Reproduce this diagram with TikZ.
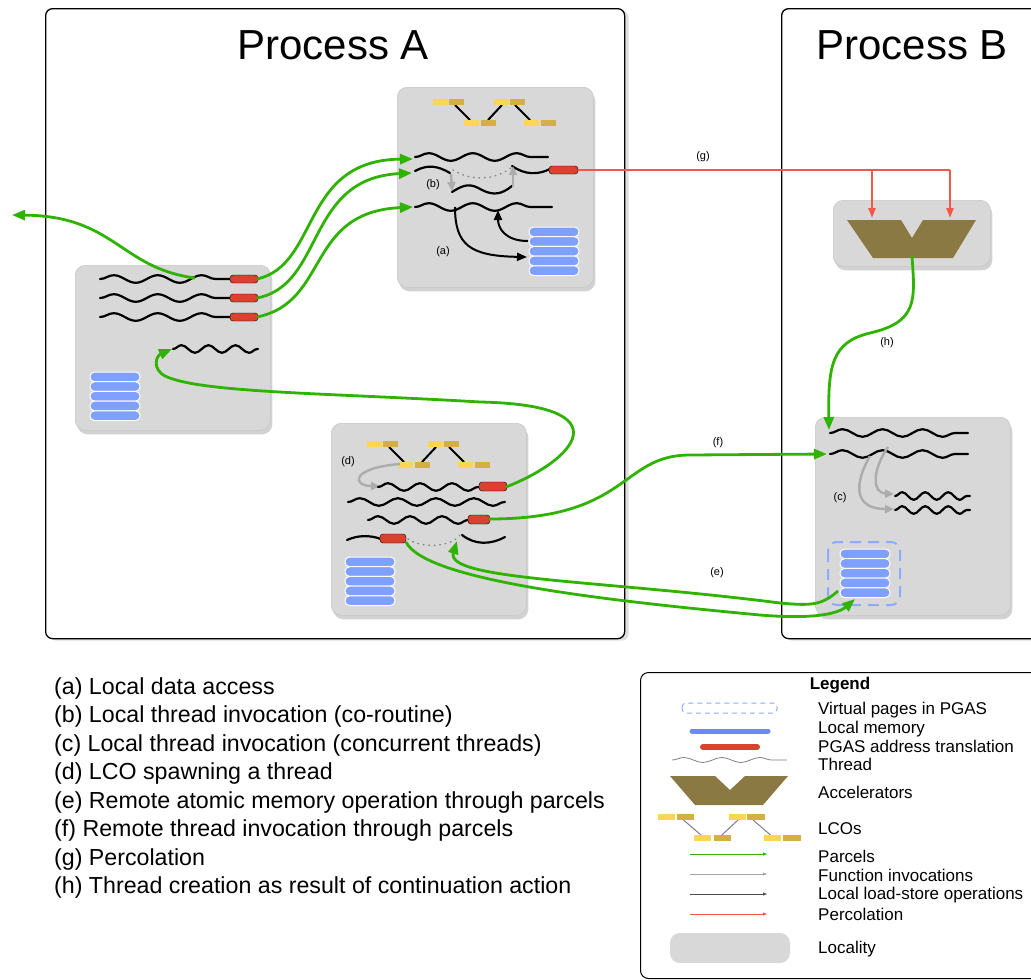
\documentclass[tikz,border=0pt]{standalone}
\usepackage{fontspec}
\setmainfont{Liberation Sans}
\usetikzlibrary{arrows.meta,decorations.pathmorphing,shadows}
\definecolor{grn}{RGB}{48,178,0}
\definecolor{redc}{RGB}{216,66,46}
\definecolor{redl}{RGB}{242,88,72}
\definecolor{memblue}{RGB}{128,160,255}
\definecolor{locgray}{RGB}{216,216,216}
\definecolor{lcoY}{RGB}{250,214,82}
\definecolor{lcoD}{RGB}{214,175,66}
\definecolor{accel}{RGB}{139,121,68}
\definecolor{arrgray}{RGB}{172,172,172}
\definecolor{dashblue}{RGB}{140,170,255}
\tikzset{
  procbox/.style={draw=black, line width=1.3pt, fill=white, rounded corners=7pt, inner sep=0pt, anchor=north west,
    drop shadow={shadow xshift=4pt, shadow yshift=-2pt, opacity=0.25}},
  locality/.style={draw=black!22, line width=0.6pt, fill=locgray, rounded corners=10pt, inner sep=0pt, anchor=north west,
    drop shadow={shadow xshift=2pt, shadow yshift=-4pt, opacity=0.35}},
  thread/.style={black, line width=2.2pt, line cap=round, decorate, decoration={snake, segment length=#1, amplitude=3.8pt}},
  thread/.default=44pt,
  tcurve/.style={black, line width=2.2pt, line cap=round},
  dotline/.style={black!50, line width=1.5pt, line cap=round, dash pattern=on 0.5pt off 5pt},
  redbar/.style={fill=redc, rounded corners=3pt},
  membar/.style={fill=memblue, draw=white, line width=1pt, rounded corners=4.5pt},
  lcoline/.style={black, line width=2pt},
  parcel/.style={grn, line width=2.8pt, -{Triangle[length=13pt,width=10pt]}},
  perc/.style={redl, line width=2.2pt},
  percarr/.style={redl, line width=2.2pt, -{Triangle[length=10pt,width=7pt]}},
  func/.style={arrgray, line width=2.4pt, -{Triangle[length=9pt,width=8pt]}},
  lsop/.style={black, line width=2pt, -{Triangle[length=10pt,width=8pt]}},
  lbl/.style={font=\fontsize{11}{13}\selectfont, inner sep=0pt},
  title/.style={font=\fontsize{42}{50}\selectfont, inner sep=0pt},
  listtxt/.style={font=\fontsize{23.2}{26}\selectfont, anchor=west, inner sep=0pt},
  legtxt/.style={font=\fontsize{17}{19}\selectfont, anchor=west, inner sep=0pt},
  memstack/.pic={\foreach \k in {0,...,4} \draw[membar] (0,\k*9.7) rectangle ++(50,9.7);},
  lco/.pic={
    \draw[lcoline] (22,6) -- (37,21) (55,21) -- (69,6) (82,6) -- (97,21);
    \fill[lcoY] (0,0) rectangle ++(15,6);
    \fill[lcoD] (16,0) rectangle ++(15,6);
    \fill[lcoY] (61,0) rectangle ++(15,6);
    \fill[lcoD] (77,0) rectangle ++(15,6);
    \fill[lcoY] (31,21) rectangle ++(15,6);
    \fill[lcoD] (48,21) rectangle ++(15,6);
    \fill[lcoY] (91,21) rectangle ++(15,6);
    \fill[lcoD] (108,21) rectangle ++(15,6);
  },
}
\begin{document}
\begin{tikzpicture}[x=1pt,y=-1pt]
\useasboundingbox (0,0) rectangle (1031,980);
\fill[white] (0,0) rectangle (1031,980);

% ---------- processes ----------
\node[procbox, minimum width=579pt, minimum height=630pt] (procA) at (45,8) {};
\node[procbox, minimum width=290pt, minimum height=630pt] (procB) at (781,8) {};
\node[title] (titleA) at (333,45) {Process A};
\node[title] (titleB) at (912,45) {Process B};

% ---------- localities ----------
\node[locality, minimum width=196pt, minimum height=200pt] (TB) at (397,87) {};
\node[locality, minimum width=195pt, minimum height=165pt] (LB) at (75,265) {};
\node[locality, minimum width=195pt, minimum height=192pt] (BB) at (331,423) {};
\node[locality, minimum width=157pt, minimum height=66pt] (BA) at (833,200) {};
\node[locality, minimum width=195pt, minimum height=198pt] (BT) at (815,417) {};

% ---------- coordinates ----------
\coordinate (TBt1) at (413,159);
\coordinate (TBt2) at (412,173);
\coordinate (TBt4) at (413,207);
\coordinate (TBr) at (578,170);
\coordinate (gA) at (872,170);
\coordinate (gB) at (950,170);
\coordinate (accA) at (872,218);
\coordinate (accB) at (950,218);
\coordinate (accOut) at (912,256);
\coordinate (LBr1) at (257,279);
\coordinate (LBr2) at (257,298);
\coordinate (LBr3) at (257,317);
\coordinate (LBx) at (195,278);
\coordinate (exitL) at (12,215);
\coordinate (LBt4) at (172,349);
\coordinate (BBr1) at (506,487);
\coordinate (BBr2) at (489,519);
\coordinate (BBr3) at (406,542);
\coordinate (BBdot) at (457,541);
\coordinate (BTt1) at (829,430);
\coordinate (BTt2) at (827,454);
\coordinate (BTmemL) at (838,591);
\coordinate (BTmemB) at (855,599);

% ---------- top locality of A ----------
\pic at (433,99) {lco};
\draw[thread] (415,157) -- (548,157);
\draw[tcurve] (415,171) .. controls (428,164) and (438,166) .. (450,173);
\draw[dotline] (453,170) .. controls (470,181) and (495,181) .. (512,167);
\draw[tcurve] (512,166) .. controls (525,175) and (538,175) .. (550,169);
\draw[tcurve] (452,192) .. controls (465,184) and (470,183) .. (482,190) .. controls (494,196) and (502,194) .. (512,186);
\draw[thread] (415,207) -- (552,207);
\draw[redbar] (549,166) rectangle (578,174);
\pic at (529,227) {memstack};
\draw[func] (451,174) -- (452,191);
\draw[func] (513,187) -- (513,166);
\draw[lsop] (455,207) .. controls (455,245) and (470,256) .. (527,257);
\draw[lsop] (528,241) .. controls (505,241) and (498,228) .. (498,210);
\node[lbl] (lb) at (433,185) {(b)};
\node[lbl] (la) at (443,252) {(a)};

% ---------- left locality of A ----------
\draw[thread] (100,279) -- (232,279);
\draw[thread] (100,298) -- (232,298);
\draw[thread] (100,317) -- (232,317);
\draw[redbar] (230,275) rectangle (258,283);
\draw[redbar] (230,294) rectangle (258,302);
\draw[redbar] (230,313) rectangle (258,321);
\draw[thread=27pt] (173,349) -- (258,349);
\pic at (90,372) {memstack};

% ---------- bottom locality of A ----------
\pic at (367,441) {lco};
\node[lbl] (ld) at (348,462) {(d)};
\draw[func] (400,464) .. controls (350,468) and (352,486) .. (380,486);
\draw[thread=32pt] (378,487) -- (482,487);
\draw[redbar] (479,482) rectangle (507,491);
\draw[thread=38pt] (348,502) -- (505,502);
\draw[thread=32pt] (368,520) -- (470,520);
\draw[redbar] (468,515) rectangle (490,524);
\draw[tcurve] (347,540) .. controls (358,535) and (370,535) .. (381,539);
\draw[redbar] (380,534) rectangle (406,543);
\draw[dotline] (408,539) .. controls (420,548) and (450,548) .. (460,535);
\draw[tcurve] (462,535) .. controls (475,545) and (490,545) .. (505,537);
\pic at (345,557) {memstack};

% ---------- Process B ----------
\fill[accel] (847,220) -- (901,220) -- (912,238) -- (923,220) -- (976,220) -- (953,258) -- (873,258) -- cycle;
\draw[thread=40pt] (830,433) -- (968,433);
\draw[thread=40pt] (830,454) -- (968,454);
\draw[thread=23pt] (895,496) -- (970,496);
\draw[thread=23pt] (895,510) -- (970,510);
\draw[func] (888,447) .. controls (872,470) and (872,493) .. (894,494);
\draw[func] (870,456) .. controls (855,482) and (852,509) .. (894,509);
\node[lbl] (lc) at (840,498) {(c)};
\draw[dashblue, line width=2pt, dash pattern=on 11pt off 7pt, rounded corners=9pt] (828,542) rectangle (900,605);
\pic at (840,549) {memstack};

% ---------- percolation ----------
\draw[perc] (TBr) -- (gB);
\draw[percarr] (gA) -- (accA);
\draw[percarr] (gB) -- (accB);
\node[lbl] (lg) at (703,157) {(g)};

% ---------- parcels ----------
\draw[parcel] (LBr1) .. controls (320,265) and (300,160) .. (TBt1);
\draw[parcel] (LBr2) .. controls (325,285) and (305,178) .. (TBt2);
\draw[parcel] (LBr3) .. controls (330,302) and (305,212) .. (TBt4);
\draw[parcel] (LBx) .. controls (120,268) and (115,216) .. (exitL);
\draw[parcel] (BBr1) .. controls (575,460) and (625,405) .. (480,402) .. controls (330,393) and (200,393) .. (165,376) .. controls (152,369) and (156,356) .. (LBt4);
\draw[parcel] (BBr2) .. controls (630,519) and (620,455) .. (690,455) -- (BTt2);
\node[lbl] (lf) at (718,443) {(f)};
\draw[parcel] (BTmemL) .. controls (822,605) and (812,606) .. (780,603) .. controls (600,580) and (445,580) .. (BBdot);
\draw[parcel] (BBr3) .. controls (425,580) and (600,600) .. (760,615) .. controls (820,620) and (840,612) .. (BTmemB);
\node[lbl] (le) at (717,573) {(e)};
\draw[parcel] (accOut) .. controls (915,300) and (918,322) .. (870,333) .. controls (832,342) and (828,365) .. (BTt1);
\node[lbl] (lh) at (887,343) {(h)};

% ---------- list ----------
\node[listtxt] (ta) at (54,688) {(a) Local data access};
\node[listtxt] (tb) at (54,716.5) {(b) Local thread invocation (co-routine)};
\node[listtxt] (tc) at (54,745) {(c) Local thread invocation (concurrent threads)};
\node[listtxt] (td) at (54,773.5) {(d) LCO spawning a thread};
\node[listtxt] (te) at (54,802) {(e) Remote atomic memory operation through parcels};
\node[listtxt] (tf) at (54,830.5) {(f) Remote thread invocation through parcels};
\node[listtxt] (tg) at (54,859) {(g) Percolation};
\node[listtxt] (th) at (54,887.5) {(h) Thread creation as result of continuation action};

% ---------- legend ----------
\node[draw=black, line width=1pt, rounded corners=8pt, minimum width=420pt, minimum height=306pt, anchor=north west, inner sep=0pt] (legend) at (640,672) {};
\node[font=\fontsize{17}{19}\selectfont\bfseries, inner sep=0pt] (legtitle) at (840,685) {Legend};
\draw[dashblue, line width=1pt, dash pattern=on 5pt off 4pt, rounded corners=4pt] (682,703) rectangle (777,713);
\draw[memblue!85!blue, line width=5pt, line cap=round] (692,731) -- (768,731);
\draw[redc, line width=6pt, line cap=round] (703,747) -- (757,747);
\draw[gray, line width=0.8pt, decorate, decoration={snake, segment length=38pt, amplitude=2.5pt}] (672,760) -- (787,760);
\fill[accel] (670,776) -- (715,776) -- (730,790) -- (745,776) -- (788,776) -- (763,805) -- (695,805) -- cycle;
\begin{scope}[lcoline/.style={gray, line width=1pt}]
\pic[xscale=1.16] at (658,814) {lco};
\end{scope}
\draw[grn, line width=0.8pt, -{Triangle[length=4pt,width=3pt]}] (690,854) -- (767,854);
\draw[gray!70, line width=0.8pt, -{Triangle[length=4pt,width=3pt]}] (690,874) -- (767,874);
\draw[black!70, line width=0.8pt, -{Triangle[length=4pt,width=3pt]}] (690,894) -- (767,894);
\draw[redl, line width=0.8pt, -{Triangle[length=4pt,width=3pt]}] (690,914) -- (767,914);
\fill[locgray, rounded corners=10pt] (670,933) rectangle (790,963);
\node[legtxt] (l1) at (818,710) {Virtual pages in PGAS};
\node[legtxt] (l2) at (818,729) {Local memory};
\node[legtxt] (l3) at (818,746) {PGAS address translation};
\node[legtxt] (l4) at (818,764) {Thread};
\node[legtxt] (l5) at (818,792) {Accelerators};
\node[legtxt] (l6) at (818,829) {LCOs};
\node[legtxt] (l7) at (818,856) {Parcels};
\node[legtxt] (l8) at (818,875) {Function invocations};
\node[legtxt] (l9) at (818,895) {Local load-store operations};
\node[legtxt] (l10) at (818,914) {Percolation};
\node[legtxt] (l11) at (818,949) {Locality};
\end{tikzpicture}
\end{document}
